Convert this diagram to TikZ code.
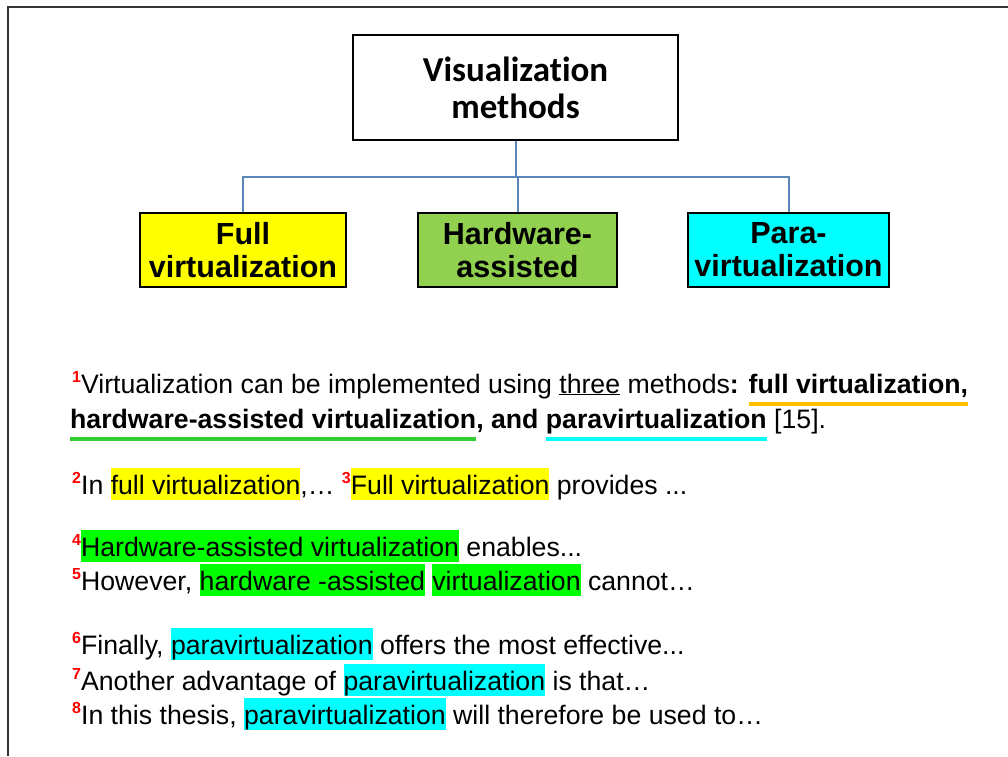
\documentclass[tikz,border=0pt]{standalone}
\usepackage{fontspec}
\setmainfont{Liberation Sans}
\newfontfamily\calfont[Ligatures=NoCommon]{Carlito}
\definecolor{hlyellow}{HTML}{FFFF00}
\definecolor{hlgreen}{HTML}{00FF00}
\definecolor{hlcyan}{HTML}{00FFFF}
\definecolor{boxgreen}{HTML}{92D050}
\definecolor{ulorange}{HTML}{FFC000}
\definecolor{ulgreen}{HTML}{33CC33}
\definecolor{connblue}{HTML}{5B86B8}
\definecolor{framegray}{HTML}{333333}
\newcommand\sn[1]{\raisebox{0.4em}{\fontsize{16}{16}\selectfont\bfseries\color{red}#1}}
\newcommand\hl[2]{{\setlength{\fboxsep}{0pt}\colorbox{#1}{\rule[-0.23em]{0pt}{1.2em}#2}}}
\newcommand\cul[2]{\setbox0\hbox{#2}\rlap{\color{#1}\rule[-0.5em]{\wd0}{0.15em}}\box0}
\begin{document}
\begin{tikzpicture}[x=1pt,y=-1pt,
  topbox/.style={draw=black,line width=2pt,fill=white,minimum width=325pt,minimum height=105pt,inner sep=0pt,align=center,font=\calfont\bfseries\fontsize{35}{37}\selectfont},
  subbox/.style={draw=black,line width=2pt,minimum height=74pt,inner sep=0pt,align=center,font=\bfseries\fontsize{30.5}{33}\selectfont},
  conn/.style={draw=connblue,line width=2pt},
  txt/.style={anchor=base west,inner sep=0pt,font=\fontsize{26.67}{30}\selectfont}]
\useasboundingbox[fill=white] (0,0) rectangle (1008,756);
\draw[framegray,line width=1.6pt] (8,756) -- (8,7) -- (1008,7);
% tree
\node[topbox] (top) at (515.5,87.5) {Visualization\\methods};
\node[subbox,fill=hlyellow,minimum width=206pt] (full) at (243,250) {Full\\virtualization};
\node[subbox,fill=boxgreen,minimum width=199pt] (hw) at (517.5,250) {Hardware-\\assisted};
\node[subbox,fill=hlcyan,minimum width=201pt] (para) at (788.5,250) {Para-\\virtualization};
\coordinate (bus) at (516,177);
\draw[conn] (top.south) -- (top.south |- bus) -| (full.north);
\draw[conn] (top.south |- bus) -| (hw.north);
\draw[conn] (top.south |- bus) -| (para.north);
% text
\node[txt] (l1) at (72,393) {\sn{1}Virtualization can be implemented using \underline{three} methods\textbf{: \cul{ulorange}{full virtualization,}}};
\node[txt] (l2) at (70,428) {\textbf{\cul{ulgreen}{hardware-assisted virtualization}, and \cul{hlcyan}{paravirtualization}} [15].};
\node[txt] (l3) at (72,494) {\sn{2}In \hl{hlyellow}{full virtualization},… \sn{3}\hl{hlyellow}{Full virtualization} provides ...};
\node[txt] (l4) at (72,556) {\sn{4}\hl{hlgreen}{Hardware-assisted virtualization} enables...};
\node[txt] (l5) at (72,590) {\sn{5}However, \hl{hlgreen}{hardware -assisted} \hl{hlgreen}{virtualization} cannot…};
\node[txt] (l6) at (72,654) {\sn{6}Finally, \hl{hlcyan}{paravirtualization} offers the most effective...};
\node[txt] (l7) at (72,690) {\sn{7}Another advantage of \hl{hlcyan}{paravirtualization} is that…};
\node[txt] (l8) at (72,724) {\sn{8}In this thesis, \hl{hlcyan}{paravirtualization} will therefore be used to…};
\end{tikzpicture}
\end{document}
